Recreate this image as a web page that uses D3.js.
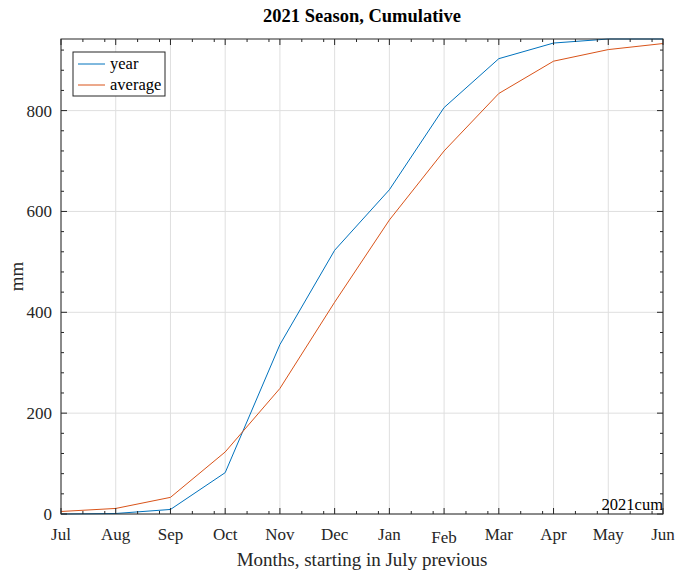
<!DOCTYPE html>
<html lang="en">
<head>
    <meta charset="UTF-8">
    <title>2021 Season, Cumulative</title>
    <style>
        body{
            margin: 0;
            background: #fff;
        }
        svg text{
            font-family: "Liberation Serif", "DejaVu Serif", serif;
        }
    </style>
</head>
<body>
<div id="main"></div>
<script src="https://d3js.org/d3.v7.min.js"></script>
<script>
    /* data */
    const months=['Jul','Aug','Sep','Oct','Nov','Dec','Jan','Feb','Mar','Apr','May','Jun']
    const yearValues=[0, 1, 9, 82, 336, 523, 643, 806, 903, 934, 942, 942]
    const averageValues=[5, 11, 33, 123, 249, 420, 583, 720, 834, 898, 921, 933]
    const yTicks=[0,200,400,600,800]
    const seriesNames=['year','average']
    const colors=['#0072BD','#D95319']

    /* container */
    const width=678
    const height=575
    const margin={left:61,right:15,top:39,bottom:61}

    const svg=d3.select('#main').append('svg')
        .attr('width',width)
        .attr('height',height)
        .attr('viewBox',`0 0 ${width} ${height}`)

    const x=d3.scalePoint()
        .domain(months)
        .range([margin.left,width-margin.right])
        .padding(0)

    const y=d3.scaleLinear()
        .domain([0,942])
        .range([height-margin.bottom,margin.top])

    const x0=margin.left, x1=width-margin.right
    const y0=height-margin.bottom, y1=margin.top

    /* grid */
    const grid=svg.append('g').attr('stroke','#dfdfdf').attr('stroke-width',1)
    grid.selectAll('.gx').data(months).join('line')
        .attr('x1',d=>x(d)).attr('x2',d=>x(d))
        .attr('y1',y0).attr('y2',y1)
    grid.selectAll('.gy').data(yTicks).join('line')
        .attr('x1',x0).attr('x2',x1)
        .attr('y1',d=>y(d)).attr('y2',d=>y(d))

    /* lines */
    const line=d3.line()
        .x((d,i)=>x(months[i]))
        .y(d=>y(d))
    ;[yearValues,averageValues].forEach((vals,k)=>{
        svg.append('path')
            .datum(vals)
            .attr('fill','none')
            .attr('stroke',colors[k])
            .attr('stroke-width',1)
            .attr('d',line)
    })

    /* box + ticks (matlab style, ticks inward on all 4 sides) */
    const axisCol='#262626'
    const box=svg.append('g').attr('stroke',axisCol).attr('fill','none')
    box.append('rect')
        .attr('x',x0).attr('y',y1)
        .attr('width',x1-x0).attr('height',y0-y1)
        .attr('stroke-width',1)

    const tickLen=6, minorLen=3
    // x major ticks
    months.forEach(m=>{
        box.append('line').attr('x1',x(m)).attr('x2',x(m)).attr('y1',y0).attr('y2',y0-tickLen)
        box.append('line').attr('x1',x(m)).attr('x2',x(m)).attr('y1',y1).attr('y2',y1+tickLen)
    })
    // x minor ticks
    const step=x.step()
    for(let i=0;i<months.length-1;i++){
        [0.4,0.8].forEach(f=>{
            const xm=x(months[i])+step*f
            box.append('line').attr('x1',xm).attr('x2',xm).attr('y1',y0).attr('y2',y0-minorLen)
            box.append('line').attr('x1',xm).attr('x2',xm).attr('y1',y1).attr('y2',y1+minorLen)
        })
    }
    // y major ticks
    yTicks.forEach(t=>{
        box.append('line').attr('x1',x0).attr('x2',x0+tickLen).attr('y1',y(t)).attr('y2',y(t))
        box.append('line').attr('x1',x1).attr('x2',x1-tickLen).attr('y1',y(t)).attr('y2',y(t))
    })
    // y minor ticks
    d3.range(40,942,40).filter(v=>v%200!==0).forEach(v=>{
        box.append('line').attr('x1',x0).attr('x2',x0+minorLen).attr('y1',y(v)).attr('y2',y(v))
        box.append('line').attr('x1',x1).attr('x2',x1-minorLen).attr('y1',y(v)).attr('y2',y(v))
    })

    /* tick labels */
    svg.append('g').selectAll('text').data(months).join('text')
        .attr('x',d=>x(d))
        .attr('y',d=>d==='Feb'?y0+29:y0+26)
        .attr('text-anchor','middle')
        .attr('font-size','17px')
        .attr('fill',axisCol)
        .text(d=>d)

    svg.append('g').selectAll('text').data(yTicks).join('text')
        .attr('x',x0-9)
        .attr('y',d=>y(d)+6)
        .attr('text-anchor','end')
        .attr('font-size','17px')
        .attr('fill',axisCol)
        .text(d=>d)

    /* titles */
    svg.append('text')
        .attr('x',(x0+x1)/2).attr('y',22)
        .attr('text-anchor','middle')
        .attr('font-size','18.5px').attr('font-weight','bold')
        .attr('fill','#000')
        .text('2021 Season, Cumulative')

    svg.append('text')
        .attr('x',(x0+x1)/2).attr('y',566)
        .attr('text-anchor','middle')
        .attr('font-size','19px')
        .attr('fill',axisCol)
        .text('Months, starting in July previous')

    svg.append('text')
        .attr('transform',`translate(23 ${(y0+y1)/2}) rotate(-90)`)
        .attr('text-anchor','middle')
        .attr('font-size','19px')
        .attr('fill',axisCol)
        .text('mm')

    svg.append('text')
        .attr('x',x1).attr('y',y0-4)
        .attr('text-anchor','end')
        .attr('font-size','16.5px')
        .attr('fill','#000')
        .text('2021cum')

    /* legend */
    const lg=svg.append('g').attr('transform','translate(73 52)')
    lg.append('rect')
        .attr('width',92).attr('height',44)
        .attr('fill','#fff').attr('stroke',axisCol).attr('stroke-width',1)
    seriesNames.forEach((n,i)=>{
        const yy=12+i*21
        lg.append('line').attr('x1',5).attr('x2',32).attr('y1',yy).attr('y2',yy)
            .attr('stroke',colors[i]).attr('stroke-width',1)
        lg.append('text').attr('x',37).attr('y',yy+5)
            .attr('font-size','16.5px').attr('fill','#000')
            .text(n)
    })
</script>
</body>
</html>
